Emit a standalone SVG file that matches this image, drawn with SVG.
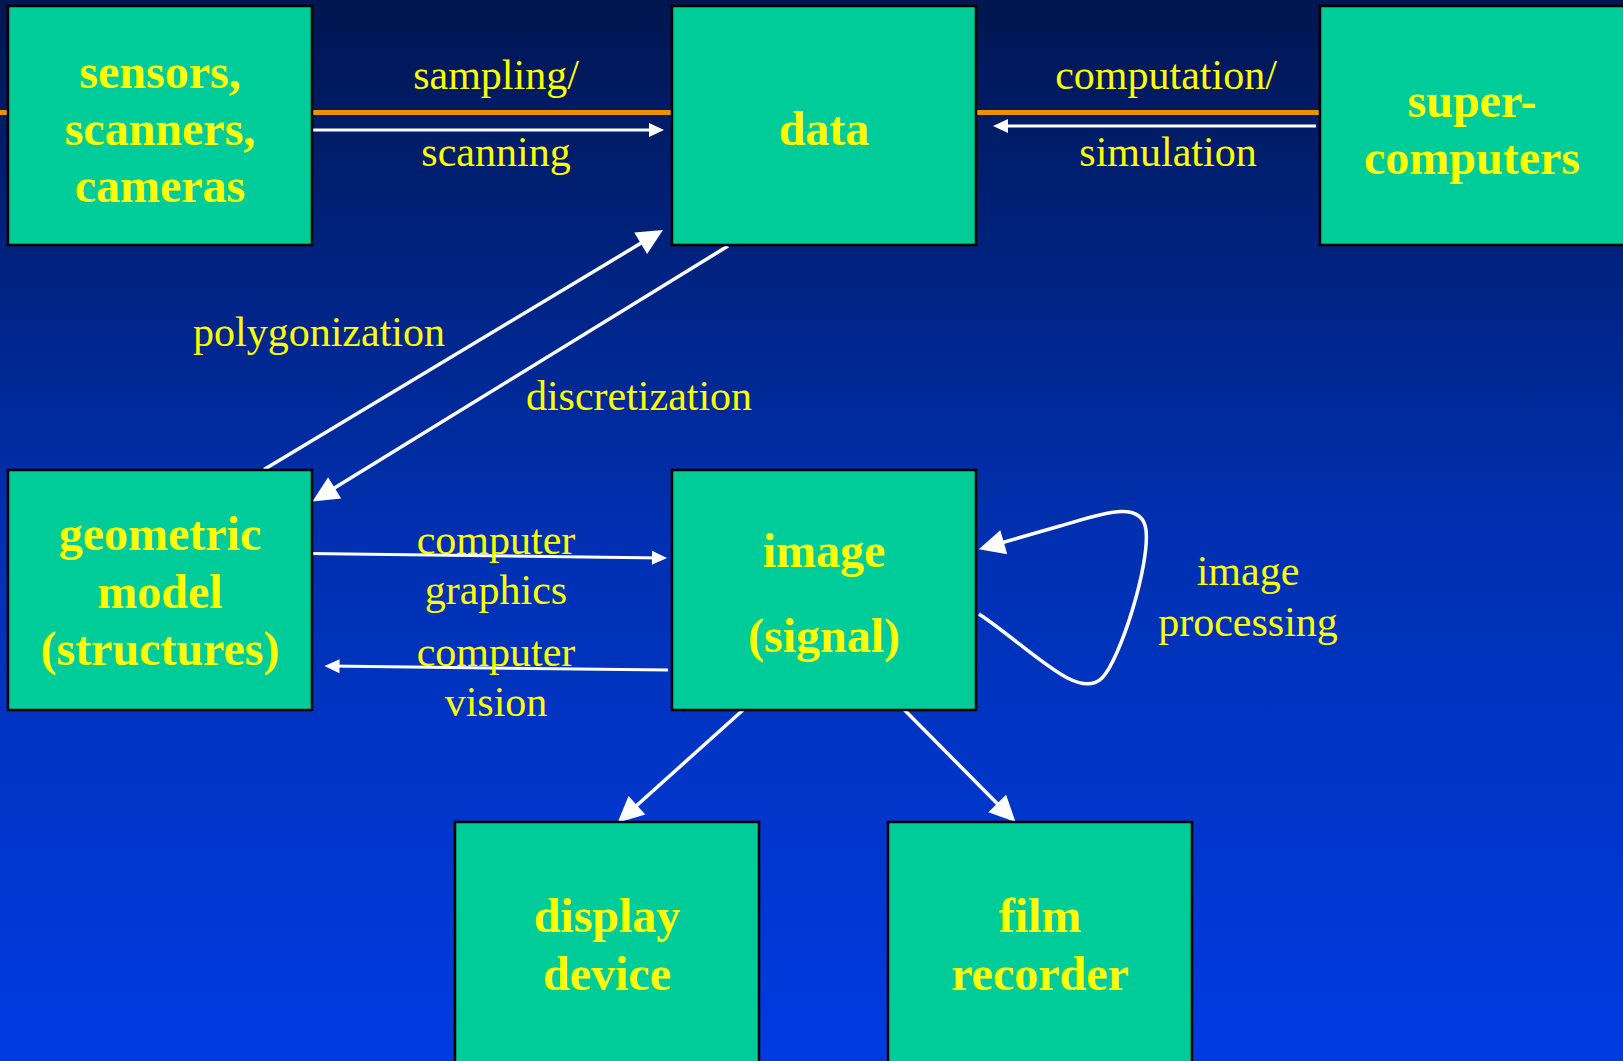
<svg xmlns="http://www.w3.org/2000/svg" width="1623" height="1061" viewBox="0 0 1623 1061">
<defs>
<linearGradient id="bg" x1="0" y1="0" x2="0" y2="1">
<stop offset="0" stop-color="#001650"/>
<stop offset="0.5" stop-color="#0030b0"/>
<stop offset="1" stop-color="#003be2"/>
</linearGradient>
<marker id="sm" markerUnits="userSpaceOnUse" orient="auto" viewBox="-12 -9 20 18" markerWidth="20" markerHeight="18" refX="0" refY="0">
<path d="M5,0 L-10,-7 L-10,7 Z" fill="#ffffff"/>
</marker>
<marker id="lg" markerUnits="userSpaceOnUse" orient="auto" viewBox="-18 -15 30 30" markerWidth="30" markerHeight="30" refX="0" refY="0">
<path d="M10,0 L-16,-12.5 L-16,12.5 Z" fill="#ffffff"/>
</marker>
<style>
.box{fill:#00cc99;stroke:#000;stroke-width:2.5}
.nt{font-family:"Liberation Serif","Times New Roman",serif;font-weight:bold;font-size:48px;fill:#ffff00;text-anchor:middle}
.lt{font-family:"Liberation Serif","Times New Roman",serif;font-size:42px;fill:#ffff00;text-anchor:middle}
.c{stroke:#ffffff;fill:none;stroke-width:3.5}
.cs{stroke:#ffffff;fill:none;stroke-width:3}
</style>
</defs>
<rect x="0" y="0" width="1623" height="1061" fill="url(#bg)"/>
<rect x="0" y="110" width="1320" height="5" fill="#f09000"/>

<g id="connectors">
<line class="cs" x1="308" y1="130" x2="659" y2="130" marker-end="url(#sm)"/>
<line class="cs" x1="1316" y1="126" x2="998" y2="126" marker-end="url(#sm)"/>
<line class="c" x1="264" y1="469.5" x2="654.4" y2="235.1" marker-end="url(#lg)"/>
<line class="c" x1="728" y1="246" x2="321" y2="496.3" marker-end="url(#lg)"/>
<line class="cs" x1="308.5" y1="553.5" x2="662" y2="557.9" marker-end="url(#sm)"/>
<line class="cs" x1="668" y1="670" x2="329.5" y2="666.1" marker-end="url(#sm)"/>
<line class="c" x1="743" y1="710" x2="625" y2="816" marker-end="url(#lg)"/>
<line class="c" x1="904.5" y1="710" x2="1008.5" y2="814.9" marker-end="url(#lg)"/>
<path class="c" d="M979 614 C1030 648 1078 702 1102 678 C1120 660 1150 565 1146 530 C1142 498 1099 515 1060 526 L988.4 546.6" marker-end="url(#lg)"/>
</g>

<g id="labels">
<text class="lt" x="496" y="89">sampling/</text>
<text class="lt" x="496" y="166">scanning</text>
<text class="lt" x="1166" y="89">computation/</text>
<text class="lt" x="1168" y="166">simulation</text>
<text class="lt" x="319" y="346">polygonization</text>
<text class="lt" x="639" y="410">discretization</text>
<text class="lt" x="496" y="554">computer</text>
<text class="lt" x="496" y="604">graphics</text>
<text class="lt" x="496" y="666">computer</text>
<text class="lt" x="496" y="716">vision</text>
<text class="lt" x="1248" y="585">image</text>
<text class="lt" x="1248" y="636">processing</text>
</g>

<g id="sensors">
<rect class="box" x="8" y="6" width="304" height="239"/>
<text class="nt" x="160" y="88">sensors,</text>
<text class="nt" x="160" y="145">scanners,</text>
<text class="nt" x="160" y="202">cameras</text>
</g>
<g id="data">
<rect class="box" x="672" y="6" width="304" height="239"/>
<text class="nt" x="824" y="145">data</text>
</g>
<g id="supercomputers">
<rect class="box" x="1320" y="6" width="306" height="239"/>
<text class="nt" x="1472" y="117">super-</text>
<text class="nt" x="1472" y="174">computers</text>
</g>
<g id="geometric">
<rect class="box" x="8" y="470" width="304" height="240"/>
<text class="nt" x="160" y="550">geometric</text>
<text class="nt" x="160" y="608">model</text>
<text class="nt" x="160" y="665">(structures)</text>
</g>
<g id="image">
<rect class="box" x="672" y="470" width="304" height="240"/>
<text class="nt" x="824" y="567">image</text>
<text class="nt" x="824" y="652">(signal)</text>
</g>
<g id="display">
<rect class="box" x="455" y="822" width="304" height="250"/>
<text class="nt" x="607" y="932">display</text>
<text class="nt" x="607" y="990">device</text>
</g>
<g id="film">
<rect class="box" x="888" y="822" width="304" height="250"/>
<text class="nt" x="1040" y="932">film</text>
<text class="nt" x="1040" y="990">recorder</text>
</g>
</svg>
